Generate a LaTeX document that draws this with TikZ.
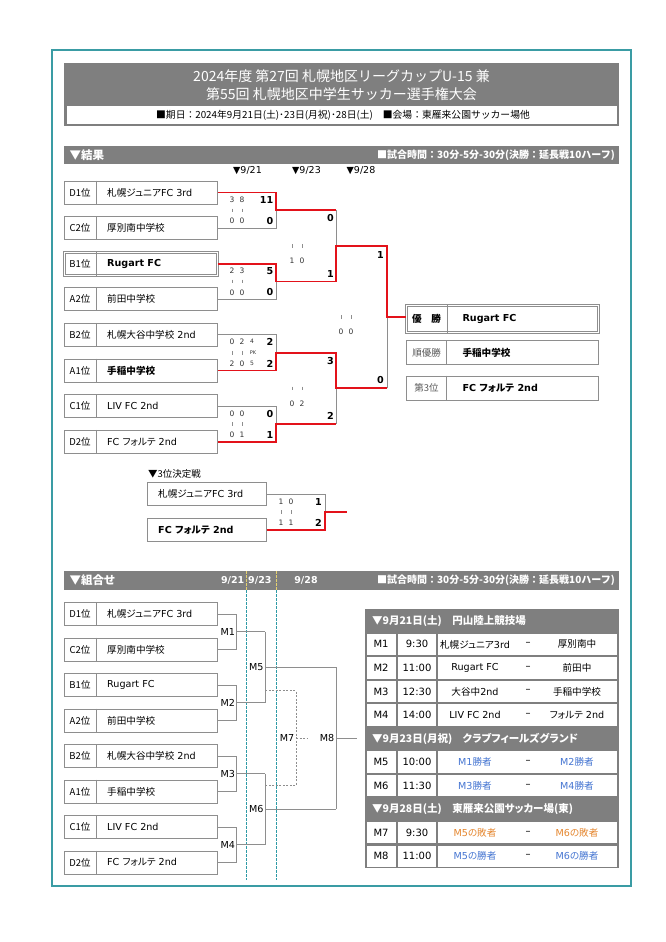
\documentclass[tikz,border=0pt]{standalone}
\usepackage{fontspec}
\setmainfont{DejaVu Sans}
\newfontfamily\jp[RawFeature=+palt]{Noto Sans CJK JP}
\newfontfamily\jpw{Noto Sans CJK JP}
\usetikzlibrary{calc}
\definecolor{bargray}{HTML}{7F7F7F}
\definecolor{lgray}{HTML}{8E8E8E}
\definecolor{wred}{HTML}{E3121A}
\definecolor{tealb}{HTML}{3A9CA4}
\definecolor{teald}{HTML}{2E9AA6}
\definecolor{yelld}{HTML}{E6D26E}
\definecolor{blt}{HTML}{4676D2}
\definecolor{ort}{HTML}{E5862E}
\newcommand\fs[1]{\fontsize{#1}{#1}\selectfont}
\newcommand\tmbox[5]{%
  \node[tb,#5] (#1) at (64,#2) {};
  \draw[gl] ($(#1.north west)+(32,0)$) -- ($(#1.south west)+(32,0)$);
  \node[posl] at ($(#1.west)+(16,0)$) {#3};
  \node[nml] at ($(#1.west)+(43,0)$) {#4};
}
\newcommand\hpair[4]{\node[hsn] at (#1,#2) {#3}; \node[hsn] at ({#1+10},#2) {#4};}
\newcommand\tks[2]{\draw[lgray,line width=0.5pt] (#1,{#2-1.8}) -- (#1,{#2+1.8}) ({#1+10},{#2-1.8}) -- ({#1+10},{#2+1.8});}
\newcommand\srow[6]{%
  \pgfmathsetmacro\rt{609+23.545*#1}
  \fill[white] (367,{\rt+1.1}) rectangle (395.8,{\rt+22.5});
  \fill[white] (397.8,{\rt+1.1}) rectangle (436.4,{\rt+22.5});
  \fill[white] (438.4,{\rt+1.1}) rectangle (616.6,{\rt+22.5});
  \node[tt] at (381,{\rt+11.8}) {#2};
  \node[tt] at (417,{\rt+11.8}) {#3};
  \node[tt,font=\fs{9.6},text=#6] at (475,{\rt+11.8}) {#4};
  \node[tt] at (528,{\rt+11.8}) {–};
  \node[tt,font=\fs{9.6},text=#6] at (577,{\rt+11.8}) {#5};
}
\tikzset{
  tb/.style={draw=lgray, line width=0.9pt, minimum width=153pt, minimum height=23pt, inner sep=0pt, anchor=west, fill=white},
  posl/.style={font=\jp\fs{9.5}, inner sep=0pt},
  nml/.style={font=\fs{9.6}, anchor=west, inner sep=0pt},
  dbl/.style={double=white, double distance=1.4pt, line width=0.7pt},
  gl/.style={draw=lgray, line width=0.9pt},
  rl/.style={draw=wred, line width=1.7pt},
  dl/.style={draw=lgray, line width=0.8pt, dash pattern=on 2pt off 1.5pt},
  hsn/.style={font=\fs{7.5}, text=black!80, inner sep=0pt},
  bsc/.style={font=\bfseries\fs{9.6}, anchor=east, inner sep=0pt},
  mlab/.style={font=\fs{9.6}, anchor=east, inner sep=0pt},
  tt/.style={font=\fs{10}, inner sep=0pt},
  whd/.style={text=white, font=\jpw\bfseries\fs{10}, inner sep=0pt},
  thd/.style={text=white, font=\jp\bfseries\fs{10.5}, inner sep=0pt},
  rbox/.style={draw=lgray, line width=0.9pt, minimum width=192pt, inner sep=0pt, anchor=west, fill=white},
}
\begin{document}
\begin{tikzpicture}[x=1pt,y=-1pt]
\fill[white] (0,0) rectangle (666,942);
\useasboundingbox (0,0) rectangle (666,942);
\draw[tealb, line width=1.2pt] (52,50) rectangle (631,886);
% title
\fill[bargray] (64,63) rectangle (619,126);
\fill[white] (66.5,106) rectangle (616.5,123.5);
\node[text=white, font=\jpw\fs{14}] (t1) at (341.5,76.5) {2024年度 第27回 札幌地区リーグカップU-15 兼};
\node[text=white, font=\jpw\fs{14}] (t2) at (341.5,94.5) {第55回 札幌地区中学生サッカー選手権大会};
\node[font=\jpw\fs{9.8}] (t3) at (343,115) {■期日：2024年9月21日(土)･23日(月祝)･28日(土)　■会場：東雁来公園サッカー場他};
% results header
\fill[bargray] (64,146) rectangle (619,164);
\node[anchor=west, text=white, font=\jp\bfseries\fs{11.5}] (reshd) at (66,155) {▼結果};
\node[anchor=east, whd] (restime) at (615,155) {■試合時間：30分-5分-30分(決勝：延長戦10ハーフ)};
\node[font=\fs{9.5}] (d1) at (247.5,171) {▼9/21};
\node[font=\fs{9.5}] (d2) at (306.5,171) {▼9/23};
\node[font=\fs{9.5}] (d3) at (361,171) {▼9/28};
% upper team boxes
\tmbox{ud1}{192.5}{D1位}{{\jp 札幌ジュニア}FC 3rd}{}
\tmbox{uc2}{228.1}{C2位}{\jp 厚別南中学校}{}
\tmbox{ub1}{263.7}{B1位}{\bfseries Rugart FC}{dbl}
\tmbox{ua2}{299.3}{A2位}{\jp 前田中学校}{}
\tmbox{ub2}{334.9}{B2位}{{\jp 札幌大谷中学校} 2nd}{}
\tmbox{ua1}{370.5}{A1位}{\jp\bfseries 手稲中学校}{}
\tmbox{uc1}{406.1}{C1位}{LIV FC 2nd}{}
\tmbox{ud2}{441.7}{D2位}{FC {\jp フォルテ} 2nd}{}
% final boxes
\node[rbox, dbl, minimum height=27pt] (champ) at (406,319) {};
\draw[gl] ($(champ.north west)+(41,0)$) -- ($(champ.south west)+(41,0)$);
\node[font=\jpw\bfseries\fs{9.6}] at (426.5,319) {優　勝};
\node[anchor=west, font=\bfseries\fs{9.6}] at (459,319) {Rugart FC};
\node[rbox, minimum height=23.6pt] (runup) at (406,352.5) {};
\draw[gl] ($(runup.north west)+(40.7,0)$) -- ($(runup.south west)+(40.7,0)$);
\node[font=\jp\fs{9.5}, text=black!65] at (426.5,352.5) {順優勝};
\node[anchor=west, font=\jp\bfseries\fs{9.6}] at (459,352.5) {手稲中学校};
\node[rbox, minimum height=24pt] (third) at (406,388) {};
\draw[gl] ($(third.north west)+(40.7,0)$) -- ($(third.south west)+(40.7,0)$);
\node[font=\jp\fs{9.5}, text=black!65] at (426.5,388) {第3位};
\node[anchor=west, font=\bfseries\fs{9.6}] at (459,388) {FC {\jp フォルテ} 2nd};
% upper bracket coordinates
\coordinate (um1j) at (276,210.3);
\coordinate (um2j) at (276,281.5);
\coordinate (um3j) at (276,352.7);
\coordinate (um4j) at (276,423.9);
\coordinate (um5t) at (336,210.3);
\coordinate (um5b) at (336,281.5);
\coordinate (um5j) at (336,245.9);
\coordinate (um6t) at (336,352.7);
\coordinate (um6b) at (336,423.9);
\coordinate (um6j) at (336,388.3);
\coordinate (uft) at (387,245.9);
\coordinate (ufb) at (387,388.3);
\coordinate (ufj) at (387,317.1);
\draw[gl] (uc2.east) -| (um1j);
\draw[gl] (ua2.east) -| (um2j);
\draw[gl] (ub2.east) -| (um3j);
\draw[gl] (uc1.east) -| (um4j);
\draw[gl] (um5t) -- (um5j);
\draw[gl] (um6b) -- (um6j);
\draw[gl] (ufb) -- (ufj);
\draw[rl] (ud1.east) -| (um1j) -- (um5t);
\draw[rl] (ub1.east) -| (um2j) -- (um5b) -- (um5j) -- (uft) -- (ufj) -- (champ.west |- ufj);
\draw[rl] (ua1.east) -| (um3j) -- (um6t) -- (um6j) -- (ufb);
\draw[rl] (ud2.east) -| (um4j) -- (um6b);
% upper scores
\hpair{232}{199.5}{3}{8} \hpair{232}{221.1}{0}{0} \tks{232}{210.3}
\node[bsc] at (273.5,200) {11}; \node[bsc] at (273.5,221.1) {0};
\hpair{232}{270.9}{2}{3} \hpair{232}{292.3}{0}{0} \tks{232}{281.5}
\node[bsc] at (273.5,271.2) {5}; \node[bsc] at (273.5,292.3) {0};
\hpair{232}{342.1}{0}{2} \hpair{232}{363.5}{2}{0} \tks{232}{352.7}
\node[hsn, font=\fs{6}] at (252,341.7) {4}; \node[hsn, font=\fs{6}] at (252,363.7) {5};
\node[hsn, font=\fs{5}] at (253,352.7) {PK};
\node[bsc] at (273.5,342.4) {2}; \node[bsc] at (273.5,363.5) {2};
\hpair{232}{413.3}{0}{0} \hpair{232}{434.7}{0}{1} \tks{232}{423.9}
\node[bsc] at (273.5,413.6) {0}; \node[bsc] at (273.5,434.7) {1};
\tks{292}{245.9} \hpair{292}{261}{1}{0}
\node[bsc] at (334,218.3) {0}; \node[bsc] at (334,274.3) {1};
\tks{292}{388.3} \hpair{292}{403.3}{0}{2}
\node[bsc] at (334,360.7) {3}; \node[bsc] at (334,416) {2};
\tks{341}{317.1} \hpair{341}{332}{0}{0}
\node[bsc] at (384,255) {1}; \node[bsc] at (384,380.5) {0};
% third place
\node[anchor=west, font=\jp\fs{9.5}, inner sep=0pt] (t3lab) at (148,474) {▼3位決定戦};
\node[tb, minimum width=119.3pt, minimum height=23.5pt] (t3a) at (146.7,494) {};
\node[nml] at (158,494) {{\jp 札幌ジュニア}FC 3rd};
\node[tb, minimum width=119.3pt, minimum height=23.5pt] (t3b) at (146.7,529.7) {};
\node[nml] at (158,529.7) {\bfseries FC {\jp フォルテ} 2nd};
\coordinate (t3j) at (325,511.8);
\coordinate (t3e) at (347,511.8);
\draw[gl] (t3a.east) -| (t3j);
\draw[rl] (t3b.east) -| (t3j) -- (t3e);
\hpair{281}{501.3}{1}{0} \hpair{281}{522.5}{1}{1} \tks{281}{511.8}
\node[bsc] at (322,502) {1}; \node[bsc] at (322,522.7) {2};
% lower header
\fill[bargray] (64,571) rectangle (619,590);
\node[anchor=west, text=white, font=\jp\bfseries\fs{11.5}] (kumhd) at (66,580.5) {▼組合せ};
\node[anchor=east, whd] (kumtime) at (615,580.5) {■試合時間：30分-5分-30分(決勝：延長戦10ハーフ)};
\node[anchor=east, text=white, font=\bfseries\fs{9.5}, inner sep=0pt] (e1) at (244.5,580.5) {9/21};
\node[anchor=west, text=white, font=\bfseries\fs{9.5}, inner sep=0pt] (e2) at (248,580.5) {9/23};
\node[text=white, font=\bfseries\fs{9.5}, inner sep=0pt] (e3) at (306,580.5) {9/28};
\draw[yelld, line width=1pt, dash pattern=on 2.5pt off 1.5pt] (246,571) -- (246,590) (276,571) -- (276,590);
\draw[teald, line width=1pt, dash pattern=on 2.5pt off 1.5pt] (246,590) -- (246,880) (276,590) -- (276,880);
% lower team boxes
\tmbox{ld1}{614}{D1位}{{\jp 札幌ジュニア}FC 3rd}{}
\tmbox{lc2}{649.5}{C2位}{\jp 厚別南中学校}{}
\tmbox{lb1}{685}{B1位}{Rugart FC}{}
\tmbox{la2}{720.5}{A2位}{\jp 前田中学校}{}
\tmbox{lb2}{756}{B2位}{{\jp 札幌大谷中学校} 2nd}{}
\tmbox{la1}{791.5}{A1位}{\jp 手稲中学校}{}
\tmbox{lc1}{827}{C1位}{LIV FC 2nd}{}
\tmbox{ld2}{862.5}{D2位}{FC {\jp フォルテ} 2nd}{}
\coordinate (lm1j) at (236.7,631.75);
\coordinate (lm2j) at (236.7,702.75);
\coordinate (lm3j) at (236.7,773.75);
\coordinate (lm4j) at (236.7,844.75);
\coordinate (lm5t) at (265.3,631.75);
\coordinate (lm5b) at (265.3,702.75);
\coordinate (lm5j) at (265.3,667.25);
\coordinate (lm6t) at (265.3,773.75);
\coordinate (lm6b) at (265.3,844.75);
\coordinate (lm6j) at (265.3,809.25);
\coordinate (lm8t) at (336,667.25);
\coordinate (lm8b) at (336,809.25);
\coordinate (lm8j) at (336,738.25);
\coordinate (lm8e) at (357,738.25);
\coordinate (lm7a) at (265.3,690.7);
\coordinate (lm7b) at (296,690.7);
\coordinate (lm7c) at (296,785);
\coordinate (lm7d) at (265.3,785);
\coordinate (lm7m) at (296,738.25);
\coordinate (lm7e) at (307,738.25);
\draw[gl] (ld1.east) -| (lm1j); \draw[gl] (lc2.east) -| (lm1j);
\draw[gl] (lb1.east) -| (lm2j); \draw[gl] (la2.east) -| (lm2j);
\draw[gl] (lb2.east) -| (lm3j); \draw[gl] (la1.east) -| (lm3j);
\draw[gl] (lc1.east) -| (lm4j); \draw[gl] (ld2.east) -| (lm4j);
\draw[gl] (lm1j) -- (lm5t); \draw[gl] (lm2j) -- (lm5b);
\draw[gl] (lm3j) -- (lm6t); \draw[gl] (lm4j) -- (lm6b);
\draw[gl] (lm5t) -- (lm5b); \draw[gl] (lm6t) -- (lm6b);
\draw[gl] (lm5j) -- (lm8t); \draw[gl] (lm6j) -- (lm8b);
\draw[gl] (lm8t) -- (lm8b); \draw[gl] (lm8j) -- (lm8e);
\draw[dl] (lm7a) -- (lm7b) -- (lm7c) -- (lm7d);
\draw[dl] (lm7m) -- (lm7e);
\node[mlab] (lm1) at (235.3,631.75) {M1};
\node[mlab] (lm2) at (235.3,702.75) {M2};
\node[mlab] (lm3) at (235.3,773.75) {M3};
\node[mlab] (lm4) at (235.3,844.75) {M4};
\node[mlab] (lm5) at (263.8,667.25) {M5};
\node[mlab] (lm6) at (263.8,809.25) {M6};
\node[mlab] (lm7) at (294.5,738.25) {M7};
\node[mlab] (lm8) at (334.5,738.25) {M8};
% schedule table
\fill[bargray] (365,609) rectangle (618.5,868);
\node[anchor=west, thd] (h1) at (372,621) {▼9月21日(土)　円山陸上競技場};
\node[anchor=west, thd] (h2) at (372,738.5) {▼9月23日(月祝)　クラブフィールズグランド};
\node[anchor=west, thd] (h3) at (372,809) {▼9月28日(土)　東雁来公園サッカー場(東)};
\srow{1}{M1}{9:30}{{\jp 札幌ジュニア}3rd}{\jp 厚別南中}{black}
\srow{2}{M2}{11:00}{Rugart FC}{\jp 前田中}{black}
\srow{3}{M3}{12:30}{{\jp 大谷中}2nd}{\jp 手稲中学校}{black}
\srow{4}{M4}{14:00}{LIV FC 2nd}{{\jp フォルテ} 2nd}{black}
\srow{6}{M5}{10:00}{M1{\jp 勝者}}{M2{\jp 勝者}}{blt}
\srow{7}{M6}{11:30}{M3{\jp 勝者}}{M4{\jp 勝者}}{blt}
\srow{9}{M7}{9:30}{M5{\jp の敗者}}{M6{\jp の敗者}}{ort}
\srow{10}{M8}{11:00}{M5{\jp の勝者}}{M6{\jp の勝者}}{blt}
\end{tikzpicture}
\end{document}
